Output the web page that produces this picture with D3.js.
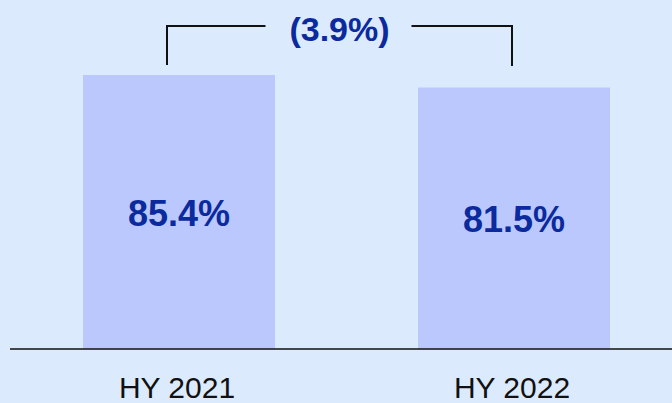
<!DOCTYPE html>
<html>
<head>
<meta charset="utf-8">
<script src="https://cdn.jsdelivr.net/npm/d3@7"></script>
<style>
  html, body { margin: 0; padding: 0; background: #dceafd; }
  svg { display: block; }
</style>
</head>
<body>
<svg id="chart" width="672" height="403"></svg>
<script>
const categories = ["HY 2021", "HY 2022"];
const values = [85.4, 81.5];
const valueLabels = ["85.4%", "81.5%"];
const changeLabel = "(3.9%)";

const W = 672, H = 403;
const svg = d3.select("#chart");
svg.append("rect").attr("width", W).attr("height", H).attr("fill", "#dceafd");

const baseline = 349;
const xPos = d3.scalePoint().domain(categories).range([179, 514]);
const barW = 192;
const y = d3.scaleLinear().domain([0, 85.4]).range([baseline, 75]);

svg.selectAll("rect.bar").data(values).join("rect")
  .attr("class", "bar")
  .attr("x", (d, i) => xPos(categories[i]) - barW / 2)
  .attr("y", d => y(d))
  .attr("width", barW)
  .attr("height", d => baseline - y(d))
  .attr("fill", "#bbc8fd");

svg.selectAll("text.val").data(values).join("text")
  .attr("class", "val")
  .attr("x", (d, i) => xPos(categories[i]))
  .attr("y", d => (y(d) + baseline) / 2)
  .attr("dy", "0.38em")
  .attr("text-anchor", "middle")
  .attr("font-family", "Liberation Sans, Arial, sans-serif")
  .attr("font-weight", "bold")
  .attr("font-size", 36)
  .attr("fill", "#0a2a9e")
  .text((d, i) => valueLabels[i]);

// baseline axis
svg.append("line").attr("x1", 10).attr("x2", 672).attr("y1", baseline).attr("y2", baseline)
  .attr("stroke", "#111").attr("stroke-width", 1.5);

svg.selectAll("text.cat").data(categories).join("text")
  .attr("class", "cat")
  .attr("x", d => xPos(d) - 2)
  .attr("y", 398)
  .attr("text-anchor", "middle")
  .attr("font-family", "Liberation Sans, Arial, sans-serif")
  .attr("font-size", 30)
  .attr("fill", "#111")
  .text(d => d);

// bracket
const bTop = 26;
const lx = xPos(categories[0]) - 12, rx = xPos(categories[1]) - 2;
const midX = (lx + rx) / 2;
svg.append("path")
  .attr("d", `M${lx},${y(values[0]) - 10}V${bTop}H${midX - 74}`)
  .attr("fill", "none").attr("stroke", "#111").attr("stroke-width", 2);
svg.append("path")
  .attr("d", `M${midX + 72},${bTop}H${rx}V${y(values[0]) - 9}`)
  .attr("fill", "none").attr("stroke", "#111").attr("stroke-width", 2);
svg.append("text")
  .attr("x", midX)
  .attr("y", 41)
  .attr("text-anchor", "middle")
  .attr("font-family", "Liberation Sans, Arial, sans-serif")
  .attr("font-weight", "bold")
  .attr("font-size", 34)
  .attr("fill", "#0a2a9e")
  .text(changeLabel);
</script>
</body>
</html>
